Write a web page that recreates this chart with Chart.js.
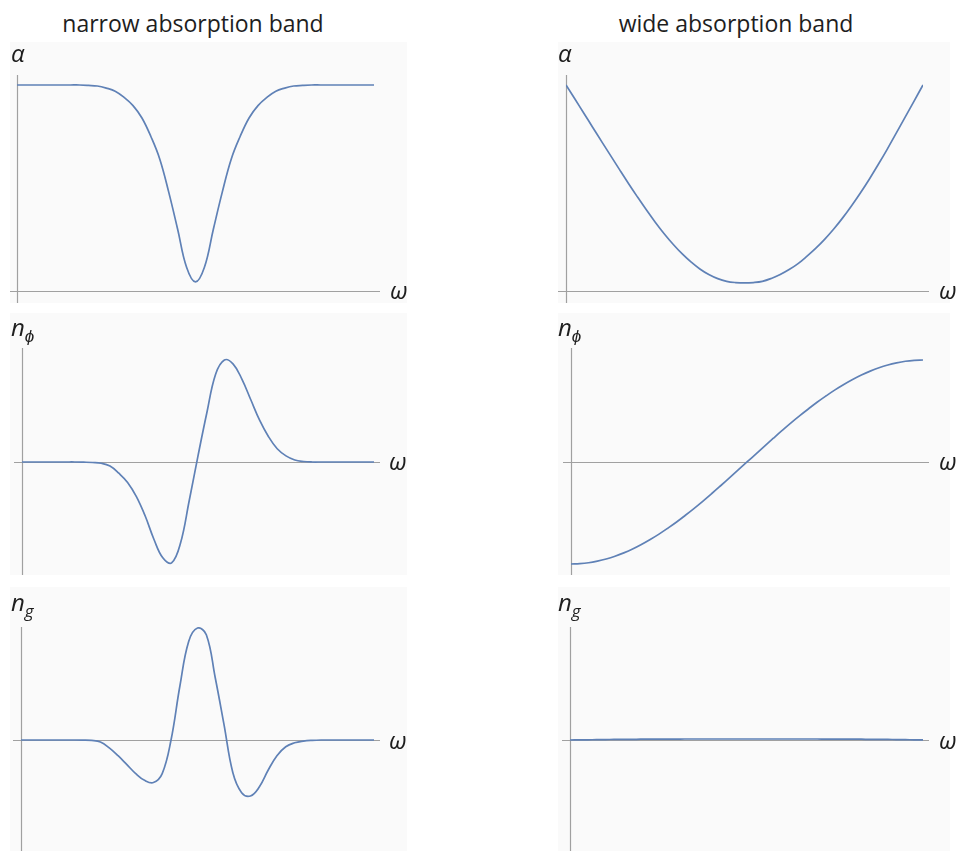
<!DOCTYPE html>
<html>
<head>
<meta charset="utf-8">
<script src="https://cdn.jsdelivr.net/npm/chart.js@4.4.1/dist/chart.umd.min.js"></script>
<style>
  body { margin: 0; background: #fff; }
  #wrap { position: relative; width: 959px; height: 851px; overflow: hidden; font-family: "Open Sans", sans-serif; }
  canvas { position: absolute; background: #fafafa; }
  .title { position: absolute; top: 7px; font-size: 23px; color: #1e1e1e; white-space: nowrap; transform: translateX(-50%); }
  .lbl { position: absolute; font-style: italic; font-size: 24px; color: #1e1e1e; line-height: 1; white-space: nowrap; }
  .lbl sub { font-size: 17px; vertical-align: -6px; }
</style>
</head>
<body>
<div id="wrap">
  <div class="title" style="left:193px">narrow absorption band</div>
  <div class="title" style="left:736px">wide absorption band</div>

  <canvas id="c1" width="397" height="261" style="left:10px;top:42px"></canvas>
  <canvas id="c2" width="392" height="261" style="left:558px;top:42px"></canvas>
  <canvas id="c3" width="397" height="262" style="left:10px;top:313px"></canvas>
  <canvas id="c4" width="392" height="262" style="left:558px;top:313px"></canvas>
  <canvas id="c5" width="397" height="264" style="left:10px;top:587px"></canvas>
  <canvas id="c6" width="392" height="264" style="left:558px;top:587px"></canvas>

  <div class="lbl" style="left:11px;top:41px">α</div>
  <div class="lbl" style="left:558px;top:41px">α</div>
  <div class="lbl" style="left:390px;top:278px">ω</div>
  <div class="lbl" style="left:939px;top:278px">ω</div>

  <div class="lbl" style="left:11px;top:315px">n<sub>ϕ</sub></div>
  <div class="lbl" style="left:558px;top:315px">n<sub>ϕ</sub></div>
  <div class="lbl" style="left:389px;top:449px">ω</div>
  <div class="lbl" style="left:939px;top:449px">ω</div>

  <div class="lbl" style="left:11px;top:590px">n<sub>g</sub></div>
  <div class="lbl" style="left:558px;top:590px">n<sub>g</sub></div>
  <div class="lbl" style="left:389px;top:728px">ω</div>
  <div class="lbl" style="left:939px;top:728px">ω</div>
</div>

<script>
// Frecuencia (eje x normalizado)
const omega = [0, 0.025, 0.05, 0.075, 0.1, 0.125, 0.15, 0.175, 0.2, 0.225,
  0.25, 0.275, 0.3, 0.325, 0.35, 0.375, 0.4, 0.425, 0.45, 0.475,
  0.5, 0.525, 0.55, 0.575, 0.6, 0.625, 0.65, 0.675, 0.7, 0.725,
  0.75, 0.775, 0.8, 0.825, 0.85, 0.875, 0.9, 0.925, 0.95, 0.975, 1];

// Banda estrecha
const alphaNarrow = [1, 1, 1, 1, 1, 1, 1, 1, 0.998, 0.995,
  0.985, 0.97, 0.94, 0.9, 0.84, 0.75, 0.64, 0.48, 0.3, 0.115,
  0.044, 0.115, 0.3, 0.48, 0.64, 0.75, 0.84, 0.9, 0.94, 0.97,
  0.985, 0.995, 0.998, 1, 1, 1, 1, 1, 1, 1, 1];
const nPhiNarrow = [0, 0, 0, 0, 0, 0, 0, -0.002, -0.005, -0.012,
  -0.04, -0.11, -0.2, -0.34, -0.53, -0.76, -0.94, -0.99, -0.8, -0.38,
  0.06, 0.48, 0.86, 1, 0.96, 0.81, 0.61, 0.41, 0.25, 0.13,
  0.06, 0.02, 0.005, 0, 0, 0, 0, 0, 0, 0, 0];
const nGNarrow = [0, 0, 0, 0, 0, 0, 0, -0.001, -0.004, -0.018,
  -0.07, -0.14, -0.22, -0.3, -0.36, -0.38, -0.3, 0, 0.48, 0.88,
  1, 0.94, 0.56, 0.14, -0.29, -0.47, -0.5, -0.42, -0.27, -0.14,
  -0.06, -0.025, -0.01, -0.003, 0, 0, 0, 0, 0, 0, 0];

// Banda ancha
const alphaWide = [1, 0.932, 0.863, 0.794, 0.725, 0.657, 0.589, 0.522, 0.457, 0.394,
  0.334, 0.278, 0.227, 0.181, 0.141, 0.107, 0.08, 0.06, 0.047, 0.041,
  0.039, 0.041, 0.047, 0.061, 0.08, 0.104, 0.133, 0.169, 0.208, 0.252,
  0.301, 0.355, 0.414, 0.477, 0.544, 0.615, 0.689, 0.766, 0.844, 0.922, 1];
const nPhiWide = [-1, -0.997, -0.988, -0.972, -0.951, -0.924, -0.891, -0.853, -0.809, -0.76,
  -0.707, -0.649, -0.588, -0.522, -0.454, -0.383, -0.309, -0.233, -0.156, -0.078,
  0, 0.078, 0.156, 0.233, 0.309, 0.383, 0.454, 0.522, 0.588, 0.649,
  0.707, 0.76, 0.809, 0.853, 0.891, 0.924, 0.951, 0.972, 0.988, 0.997, 1];
const nGWide = [0, 0.001, 0.002, 0.003, 0.004, 0.005, 0.006, 0.006, 0.007, 0.007,
  0.008, 0.008, 0.008, 0.009, 0.009, 0.009, 0.009, 0.009, 0.009, 0.009,
  0.009, 0.009, 0.009, 0.009, 0.009, 0.009, 0.009, 0.009, 0.009, 0.008,
  0.008, 0.008, 0.007, 0.007, 0.006, 0.006, 0.005, 0.004, 0.003, 0.002, 0.001];

const lineColor = '#5f81b6';
const axisColor = '#a0a0a0';

// Dibuja los ejes (cruzando en y = 0) debajo de la curva
const axesPlugin = {
    id: 'axes',
    beforeDatasetsDraw(chart) {
        const { ctx, chartArea, scales } = chart;
        const y0 = Math.round(scales.y.getPixelForValue(0)) + 0.5;
        const x0 = Math.round(chartArea.left) + 0.5;
        ctx.save();
        ctx.strokeStyle = axisColor;
        ctx.lineWidth = 1.2;
        ctx.beginPath();
        ctx.moveTo(chartArea.left - 8, y0);
        ctx.lineTo(chartArea.right + 6, y0);
        ctx.moveTo(x0, chartArea.top);
        ctx.lineTo(x0, chartArea.bottom + 2);
        ctx.stroke();
        ctx.restore();
    }
};

function makePanel(id, values, yMin, yMax, padding) {
    new Chart(document.getElementById(id), {
        type: 'line',
        data: {
            datasets: [{
                data: omega.map((w, i) => ({ x: w, y: values[i] })),
                borderColor: lineColor,
                borderWidth: 1.7,
                pointRadius: 0,
                fill: false,
                tension: 0.4
            }]
        },
        options: {
            responsive: false,
            animation: false,
            events: [],
            layout: { padding },
            plugins: { legend: { display: false }, tooltip: { enabled: false } },
            scales: {
                x: { type: 'linear', min: 0, max: 1, display: false },
                y: { min: yMin, max: yMax, display: false }
            }
        },
        plugins: [axesPlugin]
    });
}

makePanel('c1', alphaNarrow, -0.0534, 1.0485, { left: 7, right: 33, top: 33, bottom: 1 });
makePanel('c2', alphaWide, -0.0534, 1.0485, { left: 8, right: 27, top: 33, bottom: 1 });
makePanel('c3', nPhiNarrow, -1.108, 1.1176, { left: 12, right: 33, top: 35, bottom: 0 });
makePanel('c4', nPhiWide, -1.108, 1.1176, { left: 13, right: 27, top: 35, bottom: 0 });
makePanel('c5', nGNarrow, -0.991, 1.009, { left: 11, right: 33, top: 40, bottom: 0 });
makePanel('c6', nGWide, -0.991, 1.009, { left: 12, right: 27, top: 40, bottom: 0 });
</script>
</body>
</html>
